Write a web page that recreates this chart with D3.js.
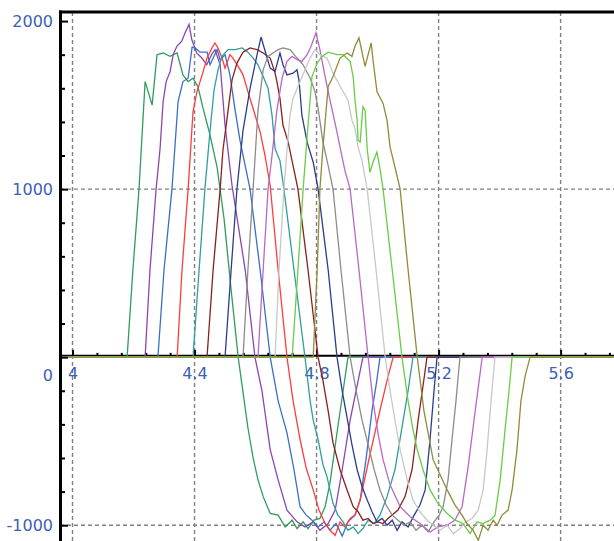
<!DOCTYPE html>
<html>
<head>
<meta charset="utf-8">
<script src="https://cdn.jsdelivr.net/npm/d3@7"></script>
<style>
    html, body { margin: 0; padding: 0; background: #fff; }
    svg { display: block; }
    .tick text { font-family: "DejaVu Sans", sans-serif; font-size: 16px; fill: #3c60b6; }
</style>
</head>
<body>
<div id="chart"></div>
<script>
// tick labels
const xTicks = [4, 4.4, 4.8, 5.2, 5.6];
const yTicks = [2000, 1000, 0, -1000];
const yGrid = [1000, -1000];

// visible window of the plot (data units)
const xView = [3.959, 5.775];
const yView = [-1094, 2054];

// pulses, [time, value]
const pulse1 = [[3.959,0],[4.179,0],[4.198,520],[4.218,1000],[4.238,1640],[4.261,1500],[4.277,1800],[4.297,1810],[4.320,1790],[4.343,1810],[4.362,1680],[4.379,1640],[4.395,1660],[4.411,1610],[4.428,1480],[4.451,1320],[4.474,1130],[4.497,820],[4.520,400],[4.543,0],[4.559,-210],[4.575,-420],[4.592,-600],[4.608,-730],[4.625,-830],[4.648,-930],[4.674,-940],[4.697,-1010],[4.720,-970],[4.736,-1020],[4.756,-980],[4.772,-1020],[4.792,-970],[4.811,-960],[4.828,-890],[4.844,-750],[4.867,-450],[4.887,-200],[4.903,0],[5.775,0]];
const pulse2 = [[3.959,0],[4.238,0],[4.254,520],[4.274,1000],[4.287,1240],[4.297,1520],[4.307,1640],[4.320,1700],[4.330,1800],[4.342,1850],[4.358,1880],[4.369,1930],[4.382,1980],[4.391,1890],[4.407,1810],[4.424,1780],[4.440,1740],[4.456,1800],[4.467,1830],[4.484,1740],[4.500,1380],[4.523,1020],[4.566,520],[4.598,0],[4.621,-200],[4.648,-550],[4.674,-730],[4.703,-910],[4.736,-980],[4.762,-1010],[4.789,-980],[4.811,-1030],[4.838,-990],[4.861,-910],[4.884,-670],[4.910,-375],[4.933,-170],[4.952,0],[5.775,0]];
const pulse3 = [[3.959,0],[4.280,0],[4.300,520],[4.326,1000],[4.346,1520],[4.362,1640],[4.379,1660],[4.392,1845],[4.402,1840],[4.418,1815],[4.441,1815],[4.451,1740],[4.461,1780],[4.474,1830],[4.484,1770],[4.500,1800],[4.516,1680],[4.533,1470],[4.549,1290],[4.566,1140],[4.582,1000],[4.615,520],[4.648,0],[4.674,-260],[4.703,-450],[4.726,-670],[4.746,-890],[4.766,-940],[4.785,-970],[4.805,-1010],[4.825,-980],[4.844,-1030],[4.864,-990],[4.884,-1065],[4.903,-980],[4.926,-940],[4.943,-850],[4.962,-610],[4.982,-315],[4.995,-170],[5.008,0],[5.775,0]];
const pulse4 = [[3.959,0],[4.343,0],[4.359,520],[4.379,1000],[4.395,1460],[4.408,1580],[4.425,1680],[4.441,1780],[4.457,1840],[4.467,1870],[4.477,1840],[4.490,1780],[4.500,1720],[4.516,1800],[4.526,1780],[4.543,1730],[4.559,1680],[4.575,1580],[4.592,1480],[4.615,1340],[4.631,1200],[4.648,1020],[4.674,520],[4.703,0],[4.723,-260],[4.746,-490],[4.766,-660],[4.789,-790],[4.808,-910],[4.828,-990],[4.844,-1030],[4.861,-1060],[4.877,-980],[4.893,-1010],[4.910,-960],[4.926,-940],[4.943,-850],[4.975,-580],[5.008,-315],[5.031,-140],[5.051,0],[5.775,0]];
const pulse5 = [[3.959,0],[4.395,0],[4.415,520],[4.434,1000],[4.451,1350],[4.464,1590],[4.477,1710],[4.490,1790],[4.510,1830],[4.533,1830],[4.556,1840],[4.575,1815],[4.592,1780],[4.608,1740],[4.625,1670],[4.641,1600],[4.654,1440],[4.664,1240],[4.680,1170],[4.693,1000],[4.726,520],[4.762,0],[4.779,-260],[4.789,-375],[4.805,-490],[4.821,-640],[4.834,-710],[4.854,-870],[4.870,-940],[4.887,-980],[4.903,-1030],[4.920,-1010],[4.936,-1050],[4.952,-1020],[4.969,-970],[4.989,-990],[5.008,-940],[5.031,-830],[5.057,-670],[5.084,-375],[5.100,-200],[5.116,0],[5.775,0]];
const pulse6 = [[3.959,0],[4.441,0],[4.461,520],[4.484,1000],[4.493,1230],[4.510,1470],[4.523,1650],[4.539,1750],[4.559,1815],[4.582,1840],[4.605,1830],[4.625,1810],[4.648,1780],[4.664,1690],[4.670,1640],[4.680,1540],[4.690,1380],[4.707,1280],[4.723,1140],[4.739,1000],[4.772,520],[4.805,0],[4.821,-140],[4.838,-320],[4.854,-510],[4.877,-670],[4.900,-790],[4.920,-890],[4.936,-920],[4.952,-970],[4.969,-960],[4.985,-990],[5.002,-980],[5.018,-990],[5.034,-960],[5.067,-910],[5.090,-830],[5.113,-670],[5.133,-375],[5.149,-170],[5.162,0],[5.775,0]];
const pulse7 = [[3.959,0],[4.500,0],[4.520,520],[4.539,1000],[4.559,1350],[4.582,1600],[4.605,1800],[4.618,1905],[4.638,1780],[4.648,1720],[4.664,1700],[4.680,1810],[4.690,1740],[4.703,1680],[4.723,1690],[4.736,1710],[4.743,1640],[4.752,1440],[4.769,1280],[4.789,1160],[4.805,1000],[4.838,520],[4.867,0],[4.884,-200],[4.900,-360],[4.916,-520],[4.933,-670],[4.949,-770],[4.966,-850],[4.982,-920],[4.998,-980],[5.015,-960],[5.031,-1000],[5.048,-970],[5.064,-1030],[5.080,-980],[5.100,-1010],[5.120,-940],[5.139,-880],[5.156,-790],[5.172,-490],[5.185,-200],[5.195,0],[5.775,0]];
const pulse8 = [[3.959,0],[4.559,0],[4.575,520],[4.592,1000],[4.608,1470],[4.625,1710],[4.641,1790],[4.657,1810],[4.674,1830],[4.690,1840],[4.713,1830],[4.736,1780],[4.756,1740],[4.779,1660],[4.795,1580],[4.805,1480],[4.821,1280],[4.838,1140],[4.854,1000],[4.880,520],[4.910,0],[4.930,-200],[4.949,-375],[4.969,-520],[4.989,-670],[5.008,-790],[5.028,-880],[5.048,-940],[5.067,-970],[5.087,-1000],[5.107,-980],[5.126,-1030],[5.146,-1000],[5.166,-1040],[5.185,-980],[5.202,-940],[5.215,-890],[5.231,-730],[5.244,-490],[5.257,-260],[5.270,0],[5.775,0]];
const pulse9 = [[3.959,0],[4.608,0],[4.625,520],[4.641,1000],[4.654,1200],[4.670,1470],[4.687,1660],[4.703,1760],[4.720,1790],[4.736,1770],[4.752,1760],[4.769,1800],[4.782,1850],[4.798,1930],[4.811,1830],[4.828,1670],[4.844,1530],[4.861,1390],[4.877,1250],[4.893,1110],[4.910,1000],[4.939,520],[4.969,0],[4.985,-260],[5.002,-460],[5.018,-610],[5.041,-760],[5.074,-890],[5.107,-950],[5.139,-990],[5.172,-1040],[5.198,-1010],[5.228,-1000],[5.254,-970],[5.277,-890],[5.297,-650],[5.320,-320],[5.343,0],[5.775,0]];
const pulse10 = [[3.959,0],[4.664,0],[4.677,520],[4.693,1000],[4.703,1230],[4.713,1440],[4.723,1540],[4.746,1640],[4.762,1710],[4.779,1780],[4.795,1830],[4.811,1800],[4.834,1780],[4.854,1690],[4.884,1590],[4.903,1530],[4.916,1410],[4.926,1360],[4.936,1250],[4.949,1170],[4.966,1000],[4.995,520],[5.025,0],[5.041,-200],[5.057,-375],[5.074,-550],[5.097,-730],[5.116,-850],[5.139,-920],[5.162,-970],[5.182,-1000],[5.205,-1030],[5.228,-1000],[5.248,-1050],[5.270,-1020],[5.289,-980],[5.310,-960],[5.330,-910],[5.346,-790],[5.359,-550],[5.372,-260],[5.385,0],[5.775,0]];
const pulse11 = [[3.959,0],[4.720,0],[4.739,520],[4.756,1000],[4.769,1310],[4.785,1670],[4.802,1750],[4.818,1790],[4.838,1815],[4.867,1800],[4.887,1800],[4.910,1760],[4.920,1670],[4.926,1530],[4.933,1410],[4.936,1290],[4.943,1280],[4.952,1490],[4.959,1470],[4.966,1240],[4.975,1100],[4.985,1160],[4.998,1220],[5.008,1120],[5.018,1000],[5.048,520],[5.080,0],[5.100,-260],[5.116,-430],[5.130,-550],[5.149,-670],[5.172,-790],[5.198,-870],[5.228,-930],[5.254,-970],[5.280,-990],[5.303,-1050],[5.326,-980],[5.346,-990],[5.369,-970],[5.385,-940],[5.402,-730],[5.418,-430],[5.431,-200],[5.441,0],[5.775,0]];
const pulse12 = [[3.959,0],[4.789,0],[4.802,520],[4.811,1000],[4.821,1250],[4.838,1610],[4.854,1670],[4.877,1780],[4.900,1810],[4.916,1790],[4.926,1850],[4.939,1900],[4.959,1730],[4.979,1870],[4.985,1770],[4.998,1580],[5.018,1510],[5.031,1410],[5.041,1250],[5.057,1130],[5.074,1000],[5.100,520],[5.130,0],[5.152,-320],[5.182,-610],[5.205,-700],[5.228,-790],[5.254,-880],[5.277,-940],[5.293,-990],[5.313,-1030],[5.330,-1090],[5.346,-1000],[5.362,-1030],[5.379,-970],[5.392,-1000],[5.408,-940],[5.428,-910],[5.441,-790],[5.457,-550],[5.470,-260],[5.484,-110],[5.500,0],[5.775,0]];

const pulses = [pulse1, pulse2, pulse3, pulse4, pulse5, pulse6, pulse7, pulse8, pulse9, pulse10, pulse11, pulse12];
const pulseColors = ['#2f9d5d', '#8e44ad', '#3a6fc6', '#ff3c3c', '#2f9e9e', '#8b1f1f',
                     '#2c3c8c', '#8c8c8c', '#b868c8', '#c8c8c8', '#6acb48', '#8e8c3a'];

const width = 614;
const height = 541;
const plotLeft = 60;
const plotTop = 12;

const x = d3.scaleLinear().domain(xView).range([plotLeft, width]);
const y = d3.scaleLinear().domain(yView).range([height, plotTop]);

const svg = d3.select('#chart')
    .append('svg')
    .attr('width', width)
    .attr('height', height);

svg.append('clipPath')
    .attr('id', 'plot-clip')
    .append('rect')
    .attr('x', plotLeft)
    .attr('y', plotTop)
    .attr('width', width - plotLeft)
    .attr('height', height - plotTop);

// dashed grid
const grid = svg.append('g')
    .attr('stroke', '#808080')
    .attr('stroke-width', 1.4)
    .attr('stroke-dasharray', '4,3');

grid.selectAll('.vgrid')
    .data(xTicks)
    .join('line')
    .attr('class', 'vgrid')
    .attr('x1', d => x(d)).attr('x2', d => x(d))
    .attr('y1', plotTop).attr('y2', height);

grid.selectAll('.hgrid')
    .data(yGrid)
    .join('line')
    .attr('class', 'hgrid')
    .attr('x1', plotLeft).attr('x2', width)
    .attr('y1', d => y(d)).attr('y2', d => y(d));

// x axis: black rule at zero with ticks pointing up
svg.append('line')
    .attr('x1', plotLeft).attr('x2', width)
    .attr('y1', y(0) - 1.3).attr('y2', y(0) - 1.3)
    .attr('stroke', '#000')
    .attr('stroke-width', 2);

const xMinor = d3.range(4.08, xView[1], 0.08).filter(d => Math.abs(d * 2.5 - Math.round(d * 2.5)) > 1e-6);

const axisX = svg.append('g')
    .attr('transform', `translate(0, ${y(0) - 1.3})`)
    .call(d3.axisBottom(x).tickValues(xTicks).tickFormat(d3.format('~g'))
        .tickSizeInner(-6).tickSizeOuter(0).tickPadding(12));
axisX.select('.domain').remove();
axisX.selectAll('.tick line').attr('stroke', '#000').attr('stroke-width', 2);

const axisXMinor = svg.append('g')
    .attr('transform', `translate(0, ${y(0) - 1.3})`)
    .call(d3.axisBottom(x).tickValues(xMinor).tickFormat('').tickSizeInner(-3).tickSizeOuter(0));
axisXMinor.select('.domain').remove();
axisXMinor.selectAll('.tick line').attr('stroke', '#000').attr('stroke-width', 2);

// pulses
const line = d3.line()
    .x(d => x(d[0]))
    .y(d => y(d[1]));

svg.append('g')
    .attr('clip-path', 'url(#plot-clip)')
    .selectAll('.pulse')
    .data(pulses)
    .join('path')
    .attr('class', 'pulse')
    .attr('fill', 'none')
    .attr('stroke', (d, i) => pulseColors[i])
    .attr('stroke-width', 1.3)
    .attr('d', line);

// y axis, ticks pointing inward; plain hyphen for negatives
const yMinor = d3.range(-1000, 2001, 200).filter(d => d % 1000 !== 0);

const axisY = svg.append('g')
    .attr('transform', `translate(${plotLeft}, 0)`)
    .call(d3.axisLeft(y).tickValues(yTicks).tickFormat(d => String(d))
        .tickSizeInner(-8).tickSizeOuter(0).tickPadding(7));
axisY.select('.domain').remove();
axisY.selectAll('.tick line').attr('stroke', '#000').attr('stroke-width', 2);
axisY.selectAll('.tick text')
    .filter(d => d === 0)
    .attr('y', 18);

const axisYMinor = svg.append('g')
    .attr('transform', `translate(${plotLeft}, 0)`)
    .call(d3.axisLeft(y).tickValues(yMinor).tickFormat('').tickSizeInner(-5).tickSizeOuter(0));
axisYMinor.select('.domain').remove();
axisYMinor.selectAll('.tick line').attr('stroke', '#000').attr('stroke-width', 2);

// frame: thick left axis and top border
svg.append('line')
    .attr('x1', plotLeft + 0.5).attr('x2', plotLeft + 0.5)
    .attr('y1', plotTop - 1.5).attr('y2', height)
    .attr('stroke', '#000')
    .attr('stroke-width', 3);

svg.append('line')
    .attr('x1', plotLeft - 1).attr('x2', width)
    .attr('y1', plotTop).attr('y2', plotTop)
    .attr('stroke', '#000')
    .attr('stroke-width', 3);
</script>
</body>
</html>
